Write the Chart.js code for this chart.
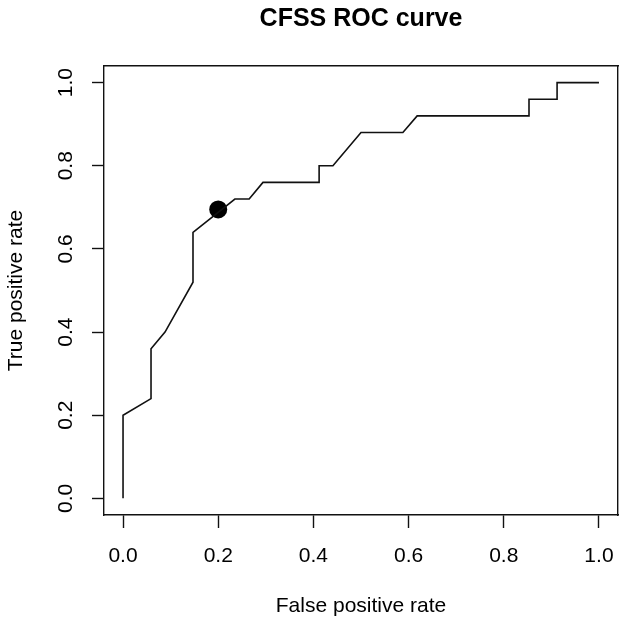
<!DOCTYPE html>
<html>
<head>
<meta charset="utf-8">
<script src="https://cdn.jsdelivr.net/npm/chart.js@4/dist/chart.umd.min.js"></script>
<style>
html,body{margin:0;padding:0;background:#fff;}
canvas{display:block;}
</style>
</head>
<body>
<canvas id="c" width="624" height="624" style="width:624px;height:624px"></canvas>
<script>
// ROC curve data (false positive rate, true positive rate)
const fpr = [0, 0, 0.0588, 0.0588, 0.0882, 0.147, 0.147, 0.235, 0.265, 0.294, 0.412, 0.412, 0.441, 0.5, 0.588, 0.618, 0.853, 0.853, 0.912, 0.912, 1.0];
const tpr = [0, 0.2, 0.24, 0.36, 0.40, 0.52, 0.64, 0.72, 0.72, 0.76, 0.76, 0.80, 0.80, 0.88, 0.88, 0.92, 0.92, 0.96, 0.96, 1.0, 1.0];
// Highlighted cut-off point
const cutX = [0.2];
const cutY = [0.695];
const tickVals = [0, 0.2, 0.4, 0.6, 0.8, 1.0];
const titleText = 'CFSS ROC curve';
const xTitle = 'False positive rate';
const yTitle = 'True positive rate';

const FONT = "'Liberation Sans', Arial, sans-serif";
Chart.defaults.color = '#000';
Chart.defaults.font.family = FONT;

const setTicks = s => { s.ticks = tickVals.map(v => ({value: v})); };

new Chart(document.getElementById('c'), {
  type: 'scatter',
  data: {
    datasets: [
      {
        data: fpr.map((x, i) => ({x: x, y: tpr[i]})),
        showLine: true,
        borderColor: '#111',
        borderWidth: 1.6,
        pointRadius: 0,
        pointHoverRadius: 0,
        tension: 0,
        fill: false
      },
      {
        data: cutX.map((x, i) => ({x: x, y: cutY[i]})),
        showLine: false,
        pointRadius: 9,
        pointHoverRadius: 9,
        pointBackgroundColor: '#000',
        pointBorderColor: '#000',
        pointBorderWidth: 0
      }
    ]
  },
  options: {
    responsive: false,
    animation: false,
    devicePixelRatio: 1,
    events: [],
    layout: {autoPadding: false, padding: {left: 0, right: 6, top: 0, bottom: 0}},
    plugins: {legend: {display: false}, tooltip: {enabled: false}, title: {display: false}},
    scales: {
      x: {
        type: 'linear', position: 'bottom', min: -0.04, max: 1.04,
        afterBuildTicks: setTicks,
        afterFit: s => { s.height = 109; s.paddingLeft = 0; s.paddingRight = 0; },
        grid: {display: true, drawOnChartArea: false, drawTicks: true, tickLength: 13, tickColor: '#111', tickWidth: 1.4},
        border: {display: true, color: '#111', width: 1.4},
        ticks: {font: {size: 21}, padding: 16, color: '#000', callback: v => v.toFixed(1), maxRotation: 0, minRotation: 0, autoSkip: false},
        title: {display: true, text: xTitle, font: {size: 21}, padding: {top: 0, bottom: 5}, color: '#000'}
      },
      x2: {
        type: 'linear', position: 'top', min: -0.04, max: 1.04,
        afterFit: s => { s.height = 66; s.paddingLeft = 0; s.paddingRight = 0; },
        grid: {display: false, drawTicks: false},
        border: {display: true, color: '#111', width: 1.4},
        ticks: {display: false},
        title: {display: true, text: titleText, font: {size: 25, weight: 'bold'}, padding: {top: 4, bottom: 0}, color: '#000'}
      },
      y: {
        type: 'linear', position: 'left', min: -0.04, max: 1.04,
        afterBuildTicks: setTicks,
        afterFit: s => { s.width = 104; s.paddingTop = 0; s.paddingBottom = 0; },
        grid: {display: true, drawOnChartArea: false, drawTicks: true, tickLength: 12, tickColor: '#111', tickWidth: 1.4},
        border: {display: true, color: '#111', width: 1.4},
        ticks: {font: {size: 21}, padding: 11, color: '#000', callback: v => v.toFixed(1), minRotation: 90, maxRotation: 90, crossAlign: 'center', autoSkip: false},
        title: {display: true, text: yTitle, font: {size: 21}, padding: {top: 4, bottom: 0}, color: '#000'}
      },
      y2: {
        type: 'linear', position: 'right', min: -0.04, max: 1.04,
        afterFit: s => { s.width = 0; s.paddingTop = 0; s.paddingBottom = 0; },
        grid: {display: false, drawTicks: false},
        border: {display: true, color: '#111', width: 1.4},
        ticks: {display: false}
      }
    }
  }
});
</script>
</body>
</html>
